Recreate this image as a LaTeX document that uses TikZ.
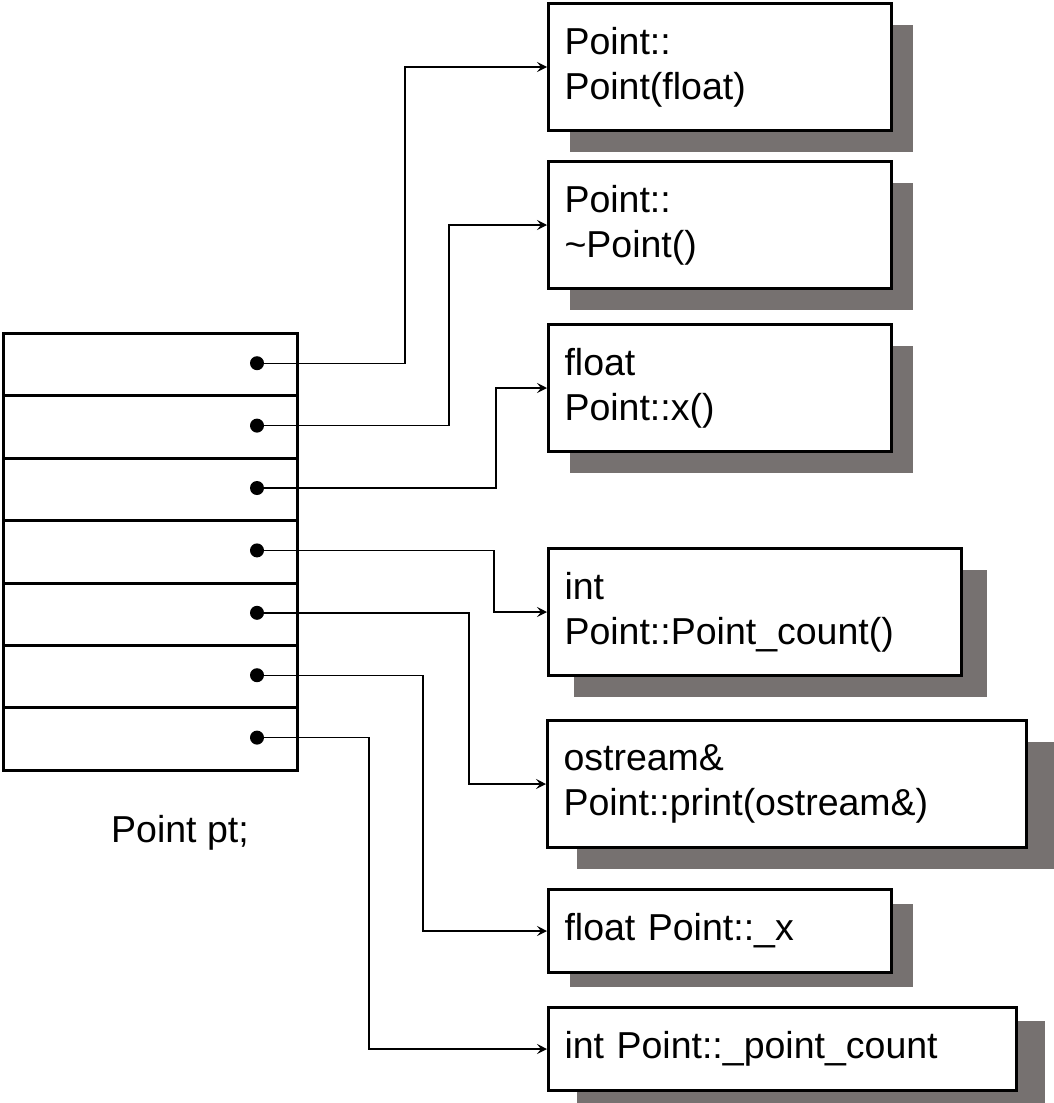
\documentclass[tikz,border=0pt]{standalone}
\usepackage{fontspec}
\setmainfont{Liberation Sans}
\usetikzlibrary{arrows.meta,shadows}
\definecolor{shadowgray}{RGB}{118,113,112}

\begin{document}
\begin{tikzpicture}[x=0.5pt,y=-0.5pt,
  every node/.style={font=\fontsize{18.75}{22.5}\selectfont},
  cell/.style={draw,line width=1.5pt,minimum width=147pt,minimum height=31.2pt,inner sep=0pt,anchor=north west},
  slot/.style={circle,fill,inner sep=0pt,minimum size=7pt},
  func/.style={draw,line width=1.5pt,fill=white,anchor=north west,inner xsep=8pt,inner ysep=0pt,align=left,minimum height=#1},
  boxshadow/.style 2 args={drop shadow={shadow xshift=#1,shadow yshift=#2,fill=shadowgray,opacity=1}},
  link/.style={line width=0.7pt,-{Stealth[length=5pt,width=5pt,inset=2pt]}}]
\useasboundingbox (0,0) rectangle (1054,1103);

% the object pt
\node[cell] (m1) at (2,332) {};
\node[cell] (m2) at (2,394.4) {};
\node[cell] (m3) at (2,456.8) {};
\node[cell] (m4) at (2,519.2) {};
\node[cell] (m5) at (2,581.6) {};
\node[cell] (m6) at (2,644) {};
\node[cell] (m7) at (2,706.4) {};
\node (pt) at (180,833) {Point pt;};

\node[slot] (d1) at (257,363.2) {};
\node[slot] (d2) at (257,425.6) {};
\node[slot] (d3) at (257,488) {};
\node[slot] (d4) at (257,550.4) {};
\node[slot] (d5) at (257,612.8) {};
\node[slot] (d6) at (257,675.2) {};
\node[slot] (d7) at (257,737.6) {};

% members
\node[func=63.5pt,text width=155.5pt,boxshadow={10.5pt}{-10.5pt}] (b1) at (547,2) {Point::\\Point(float)};
\node[func=63.5pt,text width=155.5pt,boxshadow={10.5pt}{-10.5pt}] (b2) at (547,160) {Point::\\\textasciitilde Point()};
\node[func=63.5pt,text width=155.5pt,boxshadow={10.5pt}{-10.5pt}] (b3) at (547,323) {float\\Point::x()};
\node[func=63.5pt,text width=190.5pt,boxshadow={12.5pt}{-10.5pt}] (b4) at (547,547) {int\\Point::Point\_count()};
\node[func=63.5pt,text width=223.5pt,boxshadow={14.5pt}{-10.5pt}] (b5) at (546,719) {ostream\&\\Point::print(ostream\&)};
\node[func=41.5pt,text width=155.5pt,boxshadow={10.5pt}{-7pt}] (b6) at (547,888) {float Point::\_x};
\node[func=41.5pt,text width=218pt,boxshadow={14pt}{-6.5pt}] (b7) at (547,1006) {int Point::\_point\_count};

\coordinate (k1) at (405,0);
\coordinate (k2) at (449,0);
\coordinate (k3) at (496,0);
\coordinate (k4) at (494,0);
\coordinate (k5) at (469,0);
\coordinate (k6) at (423,0);
\coordinate (k7) at (369,0);

\draw[link] (d1) -- (d1 -| k1) |- (b1.west);
\draw[link] (d2) -- (d2 -| k2) |- (b2.west);
\draw[link] (d3) -- (d3 -| k3) |- (b3.west);
\draw[link] (d4) -- (d4 -| k4) |- (b4.west);
\draw[link] (d5) -- (d5 -| k5) |- (b5.west);
\draw[link] (d6) -- (d6 -| k6) |- (b6.west);
\draw[link] (d7) -- (d7 -| k7) |- (b7.west);
\end{tikzpicture}
\end{document}
